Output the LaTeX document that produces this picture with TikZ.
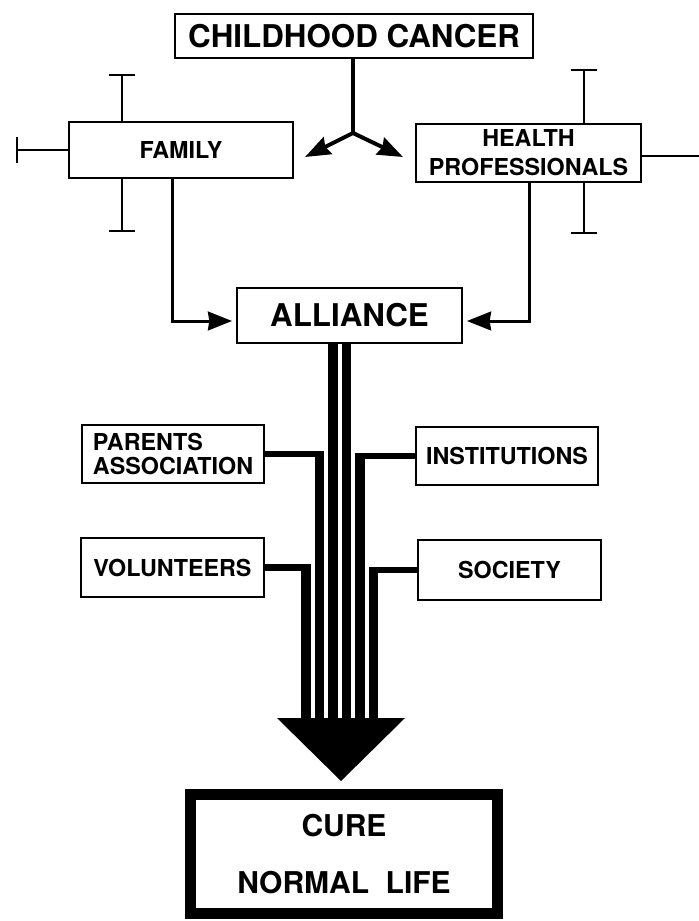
\documentclass[tikz,border=0pt]{standalone}
\usepackage{fontspec}
\setmainfont{TeX Gyre Heros}
\usetikzlibrary{arrows.meta}

\tikzset{
  box/.style={draw, line width=1.5pt, inner sep=0pt, align=center, font=\fontsize{17.5}{21.75}\selectfont\bfseries},
  bigbox/.style={box, font=\fontsize{23.5}{26}\selectfont\bfseries},
  link/.style={line width=2.25pt, -{Stealth[length=18pt,width=14pt,inset=1pt]}},
  forkarrow/.style={line width=3pt, -{Stealth[length=19pt,width=14pt,inset=2pt]}},
  tbar/.style={line width=1.5pt, -{Bar[width=20pt]}},
  stripe/.style={line width=7pt},
  feed/.style={line width=5pt}
}

\begin{document}
\begin{tikzpicture}[x=0.75pt,y=0.75pt,yscale=-1,xscale=1]
\useasboundingbox (0,0) rectangle (699,921);

%Shape: Rectangle [cancer]
\node[bigbox, minimum width=268.5pt, minimum height=33pt] (cancer) at (354,36) {CHILDHOOD CANCER};
%Shape: Rectangle [family]
\node[box, minimum width=168pt, minimum height=42pt] (family) at (181,150) {FAMILY};
%Shape: Rectangle [health]
\node[box, minimum width=168.75pt, minimum height=43.5pt] (health) at (528.5,153) {HEALTH\\PROFESSIONALS};
%Shape: Rectangle [alliance]
\node[bigbox, minimum width=168.75pt, minimum height=41.25pt] (alliance) at (349.5,315.5) {ALLIANCE};
%Shape: Rectangle [parents]
\node[box, align=left, font=\fontsize{17.5}{18}\selectfont\bfseries, minimum width=136.5pt, minimum height=43.5pt] (parents) at (173,454) {PARENTS\\ASSOCIATION};
%Shape: Rectangle [institutions]
\node[box, minimum width=136.5pt, minimum height=43.5pt] (institutions) at (507,456) {INSTITUTIONS};
%Shape: Rectangle [volunteers]
\node[box, minimum width=137.25pt, minimum height=44.25pt] (volunteers) at (172.5,567.5) {VOLUNTEERS};
%Shape: Rectangle [society]
\node[box, minimum width=137.25pt, minimum height=45pt] (society) at (509.5,570) {SOCIETY};
%Shape: Rectangle [cure]
\node[box, line width=8pt, font=\fontsize{22.5}{43}\selectfont\bfseries, minimum width=230pt, minimum height=89pt] (cure) at (344,854) {CURE\\NORMAL\hspace{0.55em}LIFE};

% free ends
\coordinate (fork) at (353,133);
\coordinate (ltip) at (305,157);
\coordinate (rtip) at (403,157);
\coordinate (ftop) at (122,74);
\coordinate (fbot) at (122,232);
\coordinate (fleft) at (16,150);
\coordinate (htop) at (584,69);
\coordinate (hbot) at (584,234);
\coordinate (hright) at (699,156);
\coordinate (fbend) at (172,321);
\coordinate (hbend) at (529,321);

%Straight Lines: fork
\draw[line width=3pt] (cancer.south -| fork) -- (fork);
\draw[forkarrow] (fork) -- (ltip);
\draw[forkarrow] (fork) -- (rtip);

%Straight Lines: bars
\draw[tbar] (family.north -| ftop) -- (ftop);
\draw[tbar] (family.south -| fbot) -- (fbot);
\draw[tbar] (family.west) -- (fleft);
\draw[tbar] (health.north -| htop) -- (htop);
\draw[tbar] (health.south -| hbot) -- (hbot);
\draw[line width=1.5pt] (health.east |- hright) -- (hright);

%Straight Lines: to alliance
\draw[link, shorten >=3pt] (family.south -| fbend) |- (alliance.west |- fbend);
\draw[link, shorten >=3pt] (health.south -| hbend) |- (alliance.east |- hbend);

% big arrow
\foreach \i/\x in {1/306,2/319.5,3/333,4/346.5,5/360,6/373.5}
  \coordinate (s\i) at (\x,720);
\coordinate (headl) at (277,718);
\coordinate (headr) at (405,718);
\coordinate (headtip) at (341,781);

\draw[stripe] (alliance.south -| s3) -- (s3);
\draw[stripe] (alliance.south -| s4) -- (s4);
\draw[feed] (parents.east) -- ([xshift=3.5pt]parents.east -| s2);
\draw[stripe] ([yshift=2.5pt]parents.east -| s2) -- (s2);
\draw[feed] (volunteers.east) -- ([xshift=3.5pt]volunteers.east -| s1);
\draw[stripe] ([yshift=2.5pt]volunteers.east -| s1) -- (s1);
\draw[feed] (institutions.west) -- ([xshift=-3.5pt]institutions.west -| s5);
\draw[stripe] ([yshift=2.5pt]institutions.west -| s5) -- (s5);
\draw[feed] (society.west) -- ([xshift=-3.5pt]society.west -| s6);
\draw[stripe] ([yshift=2.5pt]society.west -| s6) -- (s6);
\fill (headl) -- (headr) -- (headtip) -- cycle;
\end{tikzpicture}
\end{document}
